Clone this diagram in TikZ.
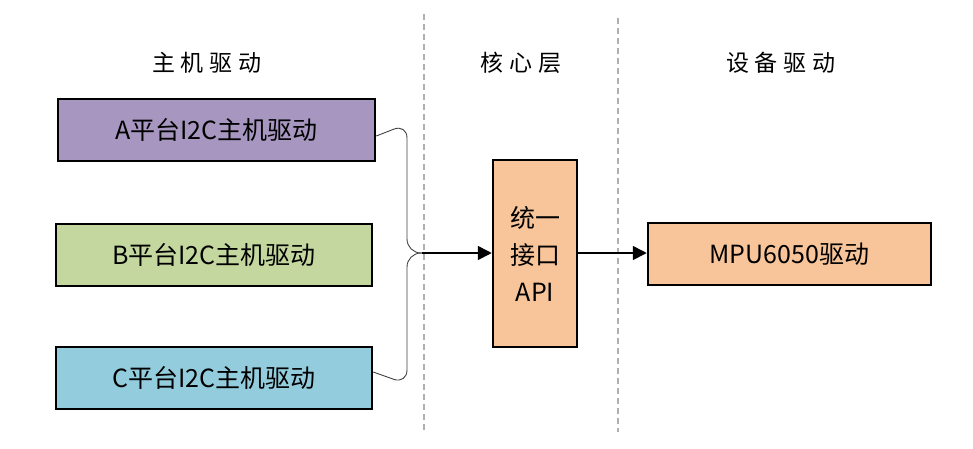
\documentclass[tikz,border=0pt]{standalone}
\usepackage{fontspec}
\setmainfont{Noto Sans CJK SC}
\usetikzlibrary{arrows.meta}
\definecolor{cA}{HTML}{A797C0}
\definecolor{cB}{HTML}{C4D79F}
\definecolor{cC}{HTML}{93CDDD}
\definecolor{cO}{HTML}{F8C59A}
\definecolor{dash}{HTML}{B0B0B0}
\tikzset{
  box/.style={draw=black, line width=2.5pt, inner sep=0pt, font=\fontsize{25}{28}\selectfont},
  hdr/.style={font=\fontsize{23}{24}\selectfont},
  sep/.style={draw=dash, line width=1.5pt, dash pattern=on 6pt off 4pt},
  brace/.style={draw=black!75, line width=0.9pt, rounded corners=14pt},
  arr/.style={draw=black, line width=1.6pt, -{Triangle[length=14pt,width=14pt]}}
}
\begin{document}
\begin{tikzpicture}[x=1pt,y=-1pt]
\useasboundingbox (0,0) rectangle (973,448);
% separators
\draw[sep] (424,14) -- (424,432);
\draw[sep] (618,18) -- (618,432);
% headers
\node[hdr] (h1) at (207,63) {主\hspace{6pt}机\hspace{6pt}驱\hspace{6pt}动};
\node[hdr] (h2) at (521,63) {核\hspace{6pt}心\hspace{6pt}层};
\node[hdr] (h3) at (781,63) {设\hspace{6pt}备\hspace{6pt}驱\hspace{6pt}动};
% boxes
\node[box, fill=cA, minimum width=317pt, minimum height=62pt] (A) at (216.5,130) {A平台I2C主机驱动};
\node[box, fill=cB, minimum width=316pt, minimum height=62pt] (B) at (214,255) {B平台I2C主机驱动};
\node[box, fill=cC, minimum width=316pt, minimum height=62pt] (C) at (214,378) {C平台I2C主机驱动};
\node[box, fill=cO, minimum width=84pt, minimum height=187pt, align=center, font=\fontsize{25}{37}\selectfont] (U) at (535,253.5) {统一\\接口\\API};
\node[box, fill=cO, minimum width=283pt, minimum height=62pt] (M) at (789.5,254) {MPU6050驱动};
% brace
\coordinate (J) at (422,253);
\draw[brace] ([yshift=-6pt]A.east) -- (407,124) -- (407,253) -- (J);
\draw[brace] ([yshift=6pt]C.east) -- (407,384) -- (407,253) -- (J);
% arrows
\draw[arr] (J) -- (U.west |- J);
\draw[arr] (U.east |- J) -- (M.west |- J);
\end{tikzpicture}
\end{document}
